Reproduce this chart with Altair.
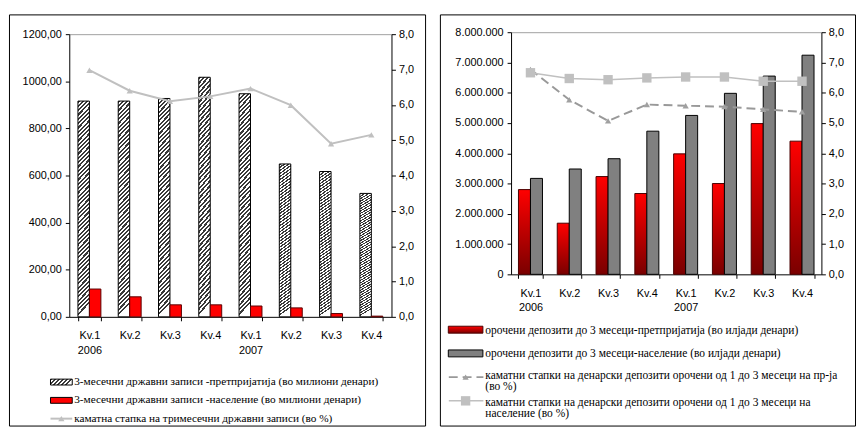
import altair as alt
import pandas as pd

# ---------------- data ----------------
quarters = ["Kv.1 2006", "Kv.2 2006", "Kv.3 2006", "Kv.4 2006",
            "Kv.1 2007", "Kv.2 2007", "Kv.3 2007", "Kv.4 2007"]

# left panel
bills_firms = [916, 916, 927, 1017, 947, 649, 617, 524]
bills_households = [118, 85, 51, 51, 46, 38, 14, 3]
bills_rate = [6.98, 6.40, 6.10, 6.24, 6.46, 5.99, 4.90, 5.15]

# right panel
dep_firms = [2800000, 1690000, 3230000, 2670000, 3980000, 3000000, 4980000, 4400000]
dep_households = [3170000, 3480000, 3820000, 4730000, 5250000, 5980000, 6550000, 7240000]
rate_firms = [6.77, 5.77, 5.07, 5.61, 5.57, 5.54, 5.45, 5.37]
rate_households = [6.66, 6.47, 6.43, 6.49, 6.52, 6.52, 6.38, 6.38]

left_names = [
    "3-месечни државни записи -претпријатија (во милиони денари)",
    "3-месечни државни записи -население (во милиони денари)",
    "каматна стапка на тримесечни државни записи (во %)",
]
right_names = [
    "орочени депозити до 3 месеци-претпријатија (во илјади денари)",
    "орочени депозити до 3 месеци-население (во илјади денари)",
    "каматни стапки на денарски депозити орочени од 1 до 3 месеци на пр-ја\n(во %)",
    "каматни стапки на денарски депозити орочени од 1 до 3 месеци на\nнаселение (во %)",
]

left_y_ticks = [0, 200, 400, 600, 800, 1000, 1200]
right_y_ticks = [0, 1000000, 2000000, 3000000, 4000000, 5000000, 6000000, 7000000, 8000000]
rate_ticks = [0, 1, 2, 3, 4, 5, 6, 7, 8]

# ---------------- styles ----------------
AX_FONT = "Liberation Sans"
LEG_FONT = "Liberation Serif"
PANEL_H = 416


def stripes(n, dark, light, x2, y2, frac=0.5):
    stops = []
    for k in range(n):
        a, b, c = k / n, (k + frac) / n, (k + 1) / n
        stops += [
            alt.GradientStop(offset=a, color=dark),
            alt.GradientStop(offset=b, color=dark),
            alt.GradientStop(offset=b, color=light),
            alt.GradientStop(offset=c, color=light),
        ]
    return alt.LinearGradient(gradient="linear", x1=0, y1=0, x2=x2, y2=y2, stops=stops)


hatch_bar = stripes(50, "#3a3a3a", "#ffffff", 0.055, 1)
hatch_leg = stripes(6, "#3a3a3a", "#ffffff", 1, 0.27)
red_grad = alt.LinearGradient(gradient="linear", x1=0, y1=0, x2=0, y2=1,
                              stops=[alt.GradientStop(offset=0, color="#ff0000"),
                                     alt.GradientStop(offset=1, color="#7a0000")])

label_q = ("isString(datum.value) ? (indexof(datum.value, 'Kv.1') == 0 ? split(datum.value, ' ') "
           ": split(datum.value, ' ')[0]) : ''")
comma2 = "isValid(datum.value) ? replace(format(datum.value, '.2f'), '.', ',') : ''"
comma1 = "isValid(datum.value) ? replace(format(datum.value, '.1f'), '.', ',') : ''"
dots = "isValid(datum.value) ? replace(replace(format(datum.value, ','), ',', '.'), ',', '.') : ''"


def x_enc(rng, pin, offset):
    return alt.X("quarter:N",
                 scale=alt.Scale(domain=quarters, range=rng, paddingInner=pin, paddingOuter=pin / 2),
                 axis=alt.Axis(title=None, orient="bottom", offset=offset, labelAngle=0,
                               tickBand="extent", tickSize=4, labelPadding=9, labelLineHeight=15,
                               labelExpr=label_q, grid=False))


def top_grid(top):
    return alt.Axis(title=None, orient="left", values=[top], grid=True, gridColor="#a0a0a0",
                    labels=False, ticks=False, domain=False)


def rect_path(ratio):
    return f"M-1,-{ratio}L1,-{ratio}L1,{ratio}L-1,{ratio}Z"


# ---------------- left panel ----------------
lw = 421
LBW = 11.6  # bar width
xL = x_enc([61, 387], 0.43, -(PANEL_H - 306))
left_bars = pd.DataFrame({
    "quarter": quarters * 2,
    "s": [0] * 8 + [1] * 8,
    "value": bills_firms + bills_households,
})
left_rate = pd.DataFrame({"quarter": quarters, "rate": bills_rate})

yL_scale = alt.Scale(domain=[0, 1200], range=[306, 20], nice=False)
yL_axis = alt.Axis(title=None, orient="left", offset=-61, values=left_y_ticks, labelExpr=comma2,
                   tickSize=4, labelPadding=4, grid=False)

l_hatch = alt.Chart(left_bars).transform_filter(alt.datum.s == 0).mark_bar(
    fill=hatch_bar, stroke="black", strokeWidth=1, width=LBW, xOffset=-LBW / 2).encode(
    x=xL, y=alt.Y("value:Q", scale=yL_scale, axis=yL_axis))
l_red = alt.Chart(left_bars).transform_filter(alt.datum.s == 1).mark_bar(
    fill="#ff0000", stroke="#5a0000", strokeWidth=1, width=LBW, xOffset=LBW / 2).encode(
    x=xL, y=alt.Y("value:Q", scale=yL_scale, axis=top_grid(1200)))
l_line = alt.Chart(left_rate).mark_line(
    color="#c0c0c0", strokeWidth=2,
    point=alt.OverlayMarkDef(shape="triangle-up", size=40, fill="#c0c0c0", filled=True, opacity=1)).encode(
    x=xL,
    y=alt.Y("rate:Q", scale=alt.Scale(domain=[0, 8], range=[306, 20], nice=False),
            axis=alt.Axis(title=None, orient="right", offset=-(lw - 387), values=rate_ticks,
                          labelExpr=comma1, tickSize=4, labelPadding=3, grid=False)))

leg_left = pd.DataFrame({"idx": [0, 1, 2], "item": left_names})
yLegL = alt.Y("item:N", scale=alt.Scale(type="point", domain=left_names, range=[372, 409], padding=0), axis=None)
ll_1 = alt.Chart(leg_left).transform_filter(alt.datum.idx == 0).mark_point(
    shape=rect_path(0.27), size=484, filled=True, fill=hatch_leg, stroke="black", strokeWidth=1, opacity=1).encode(
    x=alt.value(53), y=yLegL)
ll_2 = alt.Chart(leg_left).transform_filter(alt.datum.idx == 1).mark_point(
    shape=rect_path(0.27), size=484, filled=True, fill="#ff0000", stroke="black", strokeWidth=1, opacity=1).encode(
    x=alt.value(53), y=yLegL)
ll_3 = alt.Chart(leg_left).transform_filter(alt.datum.idx == 2).mark_rule(
    color="#c0c0c0", strokeWidth=2).encode(x=alt.value(42), x2=alt.value(64), y=yLegL)
ll_3m = alt.Chart(leg_left).transform_filter(alt.datum.idx == 2).mark_point(
    shape="triangle-up", size=40, filled=True, fill="#c0c0c0", opacity=1).encode(x=alt.value(53), y=yLegL)
ll_t = alt.Chart(leg_left).mark_text(align="left", baseline="middle", font=LEG_FONT, fontSize=11.4,
                                     color="black").encode(x=alt.value(66), y=yLegL, text="item:N")

left = alt.layer(l_hatch, l_red, l_line, ll_1, ll_2, ll_3, ll_3m, ll_t).resolve_scale(
    y="independent").properties(width=lw, height=PANEL_H)

# ---------------- right panel ----------------
rw = 420
RBW = 12.15  # bar width
xR = x_enc([72, 386], 0.38, -(PANEL_H - 263))
right_bars = pd.DataFrame({
    "quarter": quarters * 2,
    "s": [0] * 8 + [1] * 8,
    "value": dep_firms + dep_households,
})
right_rates = pd.DataFrame({"quarter": quarters, "firms": rate_firms, "households": rate_households})

yR_scale = alt.Scale(domain=[0, 8000000], range=[263, 18], nice=False)
yR_axis = alt.Axis(title=None, orient="left", offset=-72, values=right_y_ticks, labelExpr=dots,
                   tickSize=4, labelPadding=4, grid=False)
rate_scale = alt.Scale(domain=[0, 8], range=[263, 18], nice=False)

r_red = alt.Chart(right_bars).transform_filter(alt.datum.s == 0).mark_bar(
    fill=red_grad, stroke="#4a0000", strokeWidth=1, width=RBW, xOffset=-RBW / 2).encode(
    x=xR, y=alt.Y("value:Q", scale=yR_scale, axis=yR_axis))
r_gray = alt.Chart(right_bars).transform_filter(alt.datum.s == 1).mark_bar(
    fill="#808080", stroke="black", strokeWidth=1, width=RBW, xOffset=RBW / 2).encode(
    x=xR, y=alt.Y("value:Q", scale=yR_scale, axis=top_grid(8000000)))
r_dash = alt.Chart(right_rates).mark_line(
    color="#999999", strokeWidth=2, strokeDash=[9, 5],
    point=alt.OverlayMarkDef(shape="triangle-up", size=40, fill="#a0a0a0", filled=True, opacity=1,
                             strokeDash=[1, 0])).encode(
    x=xR,
    y=alt.Y("firms:Q", scale=rate_scale,
            axis=alt.Axis(title=None, orient="right", offset=-(rw - 386), values=rate_ticks,
                          labelExpr=comma1, tickSize=4, labelPadding=3, grid=False)))
r_sq = alt.Chart(right_rates).mark_line(
    color="#c0c0c0", strokeWidth=1.5,
    point=alt.OverlayMarkDef(shape="square", size=90, fill="#c0c0c0", filled=True, opacity=1)).encode(
    x=xR, y=alt.Y("households:Q", scale=rate_scale, axis=None))

leg_right = pd.DataFrame({"idx": [0, 1, 2, 3], "item": right_names})
yLegR = alt.Y("item:N", scale=alt.Scale(type="point", domain=right_names, range=[319, 391], padding=0), axis=None)
rl_1 = alt.Chart(leg_right).transform_filter(alt.datum.idx == 0).mark_point(
    shape=rect_path(0.2), size=1225, filled=True, fill=red_grad, stroke="#4a0000", strokeWidth=1, opacity=1).encode(
    x=alt.value(26), y=yLegR)
rl_2 = alt.Chart(leg_right).transform_filter(alt.datum.idx == 1).mark_point(
    shape=rect_path(0.2), size=1225, filled=True, fill="#808080", stroke="black", strokeWidth=1, opacity=1).encode(
    x=alt.value(26), y=yLegR)
rl_3 = alt.Chart(leg_right).transform_filter(alt.datum.idx == 2).mark_rule(
    color="#999999", strokeWidth=2, strokeDash=[9, 5]).encode(x=alt.value(9), x2=alt.value(44), y=yLegR)
rl_3m = alt.Chart(leg_right).transform_filter(alt.datum.idx == 2).mark_point(
    shape="triangle-up", size=40, filled=True, fill="#a0a0a0", opacity=1).encode(x=alt.value(26), y=yLegR)
rl_4 = alt.Chart(leg_right).transform_filter(alt.datum.idx == 3).mark_rule(
    color="#c0c0c0", strokeWidth=1.5).encode(x=alt.value(9), x2=alt.value(44), y=yLegR)
rl_4m = alt.Chart(leg_right).transform_filter(alt.datum.idx == 3).mark_point(
    shape="square", size=90, filled=True, fill="#c0c0c0", opacity=1).encode(x=alt.value(26), y=yLegR)


def right_text(idx, dy):
    return alt.Chart(leg_right).transform_filter(alt.datum.idx == idx).mark_text(
        align="left", baseline="top", dy=dy, font=LEG_FONT, fontSize=11.6, lineHeight=11,
        lineBreak="\n", color="black").encode(x=alt.value(46), y=yLegR, text="item:N")


rl_t0 = right_text(0, -5)
rl_t1 = right_text(1, -5)
rl_t2 = right_text(2, -7)
rl_t3 = right_text(3, -4)

right = alt.layer(r_red, r_gray, r_dash, r_sq, rl_1, rl_2, rl_3, rl_3m, rl_4, rl_4m,
                  rl_t0, rl_t1, rl_t2, rl_t3).resolve_scale(
    y="independent").properties(width=rw, height=PANEL_H)

chart = alt.hconcat(left, right, spacing=13).properties(
    padding={"left": 0, "top": 3, "right": 0, "bottom": 0}
).configure_view(stroke="black", strokeWidth=1).configure_axis(
    labelFont=AX_FONT, labelFontSize=11, labelColor="black",
    domainColor="black", tickColor="black", domainWidth=1, tickWidth=1)

chart.save("out.html", embed_options={"renderer": "svg", "actions": False})
